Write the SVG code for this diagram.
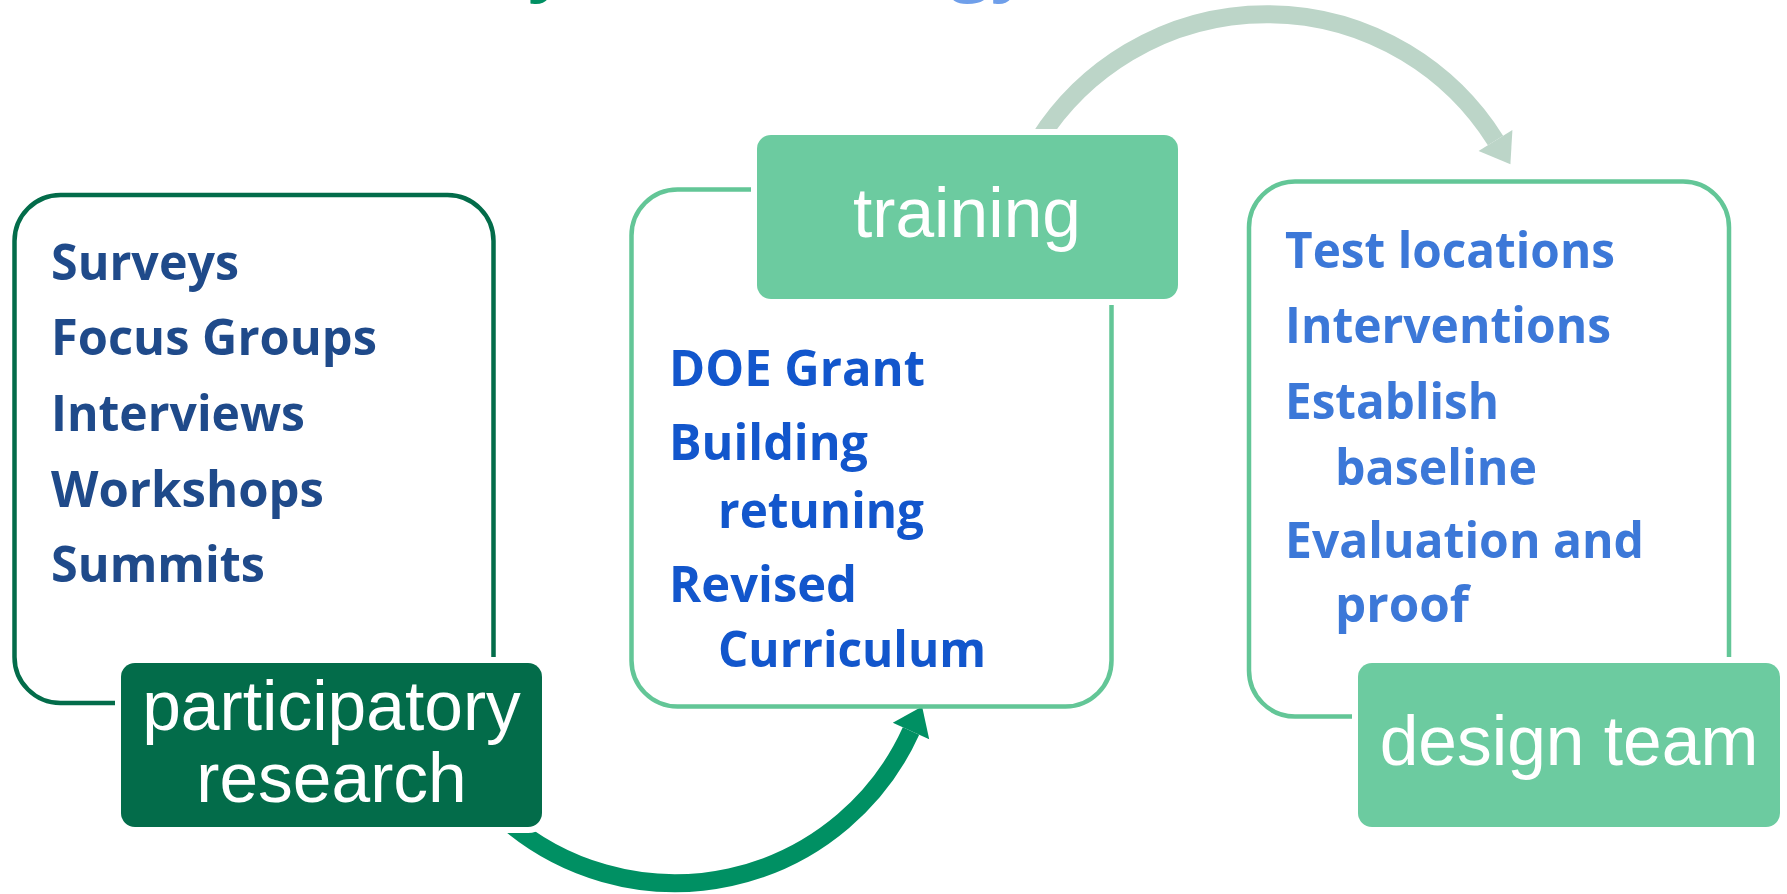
<svg xmlns="http://www.w3.org/2000/svg" width="1787" height="894" viewBox="0 0 1787 894">
  <defs>
    <style>
      .outline-dark { fill: none; stroke: #036C4A; stroke-width: 4.5; }
      .outline-light { fill: none; stroke: #63C697; stroke-width: 4.5; }
      .label { stroke: #FFFFFF; stroke-width: 12; paint-order: stroke; }
      .label-dark { fill: #036C4A; }
      .label-light { fill: #6CCBA0; }
      .label-text { font-family: "Liberation Sans", Arial, sans-serif; font-size: 69.5px; fill: #FFFFFF; text-anchor: middle; }
      .item { font-family: "Open Sans", "Noto Sans", sans-serif; font-weight: 700; font-size: 50px; }
      .item-navy { fill: #1F4A8A; }
      .item-blue { fill: #1256CC; }
      .item-sky { fill: #3C78D8; }
      .title { font-family: "Open Sans", "Noto Sans", sans-serif; font-weight: 700; font-size: 72px; }
      .arc-dark { fill: none; stroke: #009063; stroke-width: 18; }
      .arc-pale { fill: none; stroke: #BCD5C8; stroke-width: 18; }
    </style>
  </defs>

  <rect width="1787" height="894" fill="#FFFFFF"/>

  <!-- title line sits above the top edge; only its descenders reach in -->
  <g id="title">
    <text class="title" x="528" y="-13" fill="#009063">y</text>
    <text class="title" x="950" y="-13" fill="#6F9FEA">gy</text>
  </g>

  <!-- curved arrows linking the three stages -->
  <g id="connectors">
    <path class="arc-dark" d="M 505 819.5 A 259 259 0 0 0 911 731"/>
    <polygon fill="#009063" points="922.1,706.4 929.2,739.2 892.8,722.8"/>
    <path class="arc-pale" d="M 1038.6 140 A 270 270 0 0 1 1495.5 140.5"/>
    <polygon fill="#BCD5C8" points="1510.4,164.2 1512.4,129.9 1478.6,151.1"/>
  </g>

  <!-- stage 1: participatory research -->
  <g id="participatory-research">
    <rect class="outline-dark" x="14.5" y="195" width="479" height="508" rx="46"/>
    <g class="item item-navy">
      <text x="51" y="280" textLength="188" lengthAdjust="spacingAndGlyphs">Surveys</text>
      <text x="51" y="355" textLength="326" lengthAdjust="spacingAndGlyphs">Focus Groups</text>
      <text x="51" y="431" textLength="254" lengthAdjust="spacingAndGlyphs">Interviews</text>
      <text x="51" y="506.5" textLength="273" lengthAdjust="spacingAndGlyphs">Workshops</text>
      <text x="51" y="581.5" textLength="214" lengthAdjust="spacingAndGlyphs">Summits</text>
    </g>
    <rect class="label label-dark" x="121" y="663" width="421" height="164" rx="14"/>
    <text class="label-text" x="331.5" y="730">participatory</text>
    <text class="label-text" x="331.5" y="802">research</text>
  </g>

  <!-- stage 2: training -->
  <g id="training">
    <rect class="outline-light" x="631.5" y="189.5" width="480" height="517" rx="46"/>
    <g class="item item-blue">
      <text x="669" y="386" textLength="256" lengthAdjust="spacingAndGlyphs">DOE Grant</text>
      <text x="669" y="460" textLength="199" lengthAdjust="spacingAndGlyphs">Building</text>
      <text x="718" y="528" textLength="206" lengthAdjust="spacingAndGlyphs">retuning</text>
      <text x="669" y="601.5" textLength="188" lengthAdjust="spacingAndGlyphs">Revised</text>
      <text x="718" y="667" textLength="268" lengthAdjust="spacingAndGlyphs">Curriculum</text>
    </g>
    <rect class="label label-light" x="757" y="135" width="421" height="164" rx="14"/>
    <text class="label-text" x="967" y="237">training</text>
  </g>

  <!-- stage 3: design team -->
  <g id="design-team">
    <rect class="outline-light" x="1249" y="181.5" width="480" height="535" rx="46"/>
    <g class="item item-sky">
      <text x="1285" y="268" textLength="330" lengthAdjust="spacingAndGlyphs">Test locations</text>
      <text x="1285" y="342.5" textLength="326" lengthAdjust="spacingAndGlyphs">Interventions</text>
      <text x="1285" y="419" textLength="214" lengthAdjust="spacingAndGlyphs">Establish</text>
      <text x="1335" y="485" textLength="202" lengthAdjust="spacingAndGlyphs">baseline</text>
      <text x="1285" y="558" textLength="359" lengthAdjust="spacingAndGlyphs">Evaluation and</text>
      <text x="1335" y="621.5" textLength="134" lengthAdjust="spacingAndGlyphs">proof</text>
    </g>
    <rect class="label label-light" x="1358" y="663" width="422" height="164" rx="14"/>
    <text class="label-text" x="1569" y="765">design team</text>
  </g>
</svg>
